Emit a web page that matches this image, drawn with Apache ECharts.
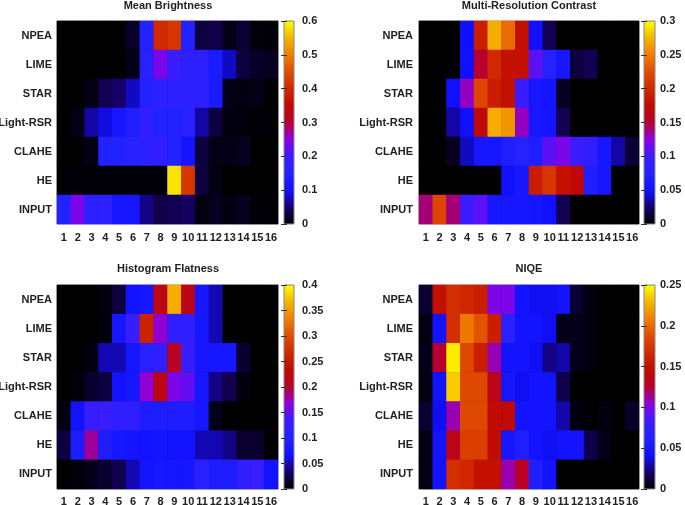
<!DOCTYPE html>
<html><head><meta charset="utf-8">
<script src="https://cdn.jsdelivr.net/npm/echarts@6/dist/echarts.min.js"></script>
<style>html,body{margin:0;padding:0;background:#fff}#c{width:685px;height:505px}</style>
</head><body><div id="c"></div><script>
// rows listed top to bottom
const methods = ['NPEA','LIME','STAR','Light-RSR','CLAHE','HE','INPUT'];
const columns = ['1','2','3','4','5','6','7','8','9','10','11','12','13','14','15','16'];

const meanBrightness = [
  [0,0,0,0,0,0.02,0.15,0.40,0.42,0.15,0.03,0.035,0.01,0.025,0.005,0.003],
  [0,0,0,0,0,0.01,0.16,0.24,0.20,0.17,0.17,0.13,0.08,0.03,0.02,0.015],
  [0,0,0.01,0.04,0.05,0.08,0.15,0.17,0.17,0.17,0.17,0.13,0.01,0.008,0.01,0],
  [0,0.01,0.07,0.09,0.12,0.14,0.18,0.15,0.15,0.16,0.07,0.03,0.008,0.005,0.003,0.002],
  [0,0,0.01,0.15,0.15,0.16,0.17,0.18,0.15,0.11,0.03,0.01,0.01,0.015,0,0],
  [0.003,0.003,0.003,0.003,0.003,0.003,0.003,0.003,0.58,0.42,0.03,0.008,0,0,0,0],
  [0.15,0.24,0.17,0.17,0.12,0.12,0.06,0.035,0.04,0.045,0.008,0.015,0.008,0.015,0.003,0.002]
];
const multiResContrast = [
  [0,0,0,0.05,0.19,0.27,0.24,0.18,0.05,0.02,0,0,0,0,0,0],
  [0,0,0,0.05,0.15,0.20,0.18,0.18,0.11,0.08,0.06,0.015,0.02,0,0,0],
  [0,0,0.05,0.13,0.22,0.19,0.18,0.10,0.06,0.055,0.008,0,0,0,0,0],
  [0,0,0.035,0.05,0.17,0.27,0.26,0.13,0.06,0.055,0.02,0,0,0,0,0],
  [0,0,0.008,0.04,0.06,0.06,0.07,0.08,0.07,0.11,0.12,0.10,0.09,0.06,0.035,0.012],
  [0,0,0,0,0,0,0.05,0.06,0.19,0.21,0.18,0.17,0.07,0.06,0,0],
  [0.14,0.22,0.14,0.10,0.11,0.06,0.06,0.06,0.055,0.05,0.02,0,0,0,0,0]
];
const histogramFlatness = [
  [0,0,0,0.005,0.02,0.07,0.08,0.22,0.36,0.22,0.08,0.05,0,0,0,0],
  [0,0,0,0.003,0.08,0.13,0.26,0.17,0.12,0.12,0.08,0.05,0,0,0,0],
  [0,0,0.005,0.05,0.05,0.08,0.11,0.12,0.21,0.13,0.08,0.08,0.08,0.015,0,0],
  [0,0.003,0.015,0.02,0.07,0.08,0.17,0.22,0.16,0.15,0.08,0.04,0.025,0.005,0,0],
  [0.005,0.07,0.13,0.13,0.12,0.12,0.09,0.09,0.09,0.09,0.08,0.008,0,0,0,0],
  [0.02,0.09,0.18,0.09,0.08,0.075,0.07,0.075,0.07,0.07,0.05,0.05,0.04,0.015,0.015,0],
  [0,0.003,0.008,0.015,0.025,0.05,0.075,0.08,0.08,0.08,0.11,0.09,0.09,0.12,0.13,0.07]
];
const niqe = [
  [0.01,0.15,0.17,0.165,0.16,0.10,0.10,0.045,0.04,0.04,0.045,0.01,0.003,0,0,0],
  [0.003,0.045,0.17,0.205,0.19,0.16,0.07,0.045,0.045,0.04,0.005,0.005,0.003,0,0,0],
  [0.005,0.125,0.245,0.185,0.16,0.11,0.045,0.045,0.04,0.025,0.03,0.005,0.003,0,0,0],
  [0.003,0.045,0.235,0.185,0.185,0.135,0.05,0.04,0.045,0.045,0.015,0,0,0,0,0],
  [0.01,0.04,0.11,0.185,0.185,0.145,0.145,0.045,0.045,0.045,0.03,0.003,0,0.003,0,0.008],
  [0.003,0.045,0.135,0.18,0.18,0.145,0.05,0.06,0.045,0.04,0.045,0.045,0.015,0.005,0,0],
  [0.003,0.045,0.17,0.165,0.15,0.15,0.11,0.13,0.06,0.045,0,0,0,0,0,0]
];

const titles = ['Mean Brightness','Multi-Resolution Contrast','Histogram Flatness','NIQE'];
const datasets = [meanBrightness, multiResContrast, histogramFlatness, niqe];
const scaleMax = [0.6, 0.3, 0.4, 0.25];
const scaleStep = [0.1, 0.05, 0.05, 0.05];

const palette = ['#000000','#160068','#1010ff','#2222ff','#3a1cff','#8c00e4','#b80030',
                 '#c00a00','#d02800','#e04c00','#f08000','#f5b800','#ffff00'];

const layouts = [
  {heat:{left:57,top:21,width:221,height:203}, bar:{left:284,top:21,width:10,height:203}, lm:8, xm:8, ym:5, tx:168, ty:0},
  {heat:{left:419,top:21,width:220,height:203}, bar:{left:644,top:21,width:11,height:203}, lm:5, xm:8, ym:6, tx:529, ty:0},
  {heat:{left:57,top:285,width:221,height:204}, bar:{left:284,top:285,width:10,height:204}, lm:8, xm:7, ym:5, tx:168, ty:263},
  {heat:{left:419,top:285,width:220,height:204}, bar:{left:644,top:285,width:11,height:204}, lm:5, xm:7, ym:6, tx:529, ty:263}
];

const font = 'Liberation Sans, Arial, sans-serif';
const yCats = methods.slice().reverse();

const option = {
  backgroundColor:'#fff', animation:false,
  title:[], grid:[], xAxis:[], yAxis:[], series:[], visualMap:[], graphic:[]
};

datasets.forEach((d, p) => {
  const L = layouts[p];
  option.title.push({text:titles[p], left:L.tx, top:L.ty, textAlign:'center', padding:0,
    textStyle:{fontFamily:font, fontSize:11, fontWeight:'bold', color:'#222'}});
  option.grid.push(Object.assign({show:true, borderColor:'#888', borderWidth:1, backgroundColor:'#000',
    containLabel:false, outerBoundsMode:'none'}, L.heat));
  option.xAxis.push({type:'category', gridIndex:p, data:columns, axisLine:{show:false}, axisTick:{show:false},
    axisLabel:{fontFamily:font, fontSize:11, fontWeight:'bold', color:'#222', margin:L.xm, interval:0}});
  option.yAxis.push({type:'category', gridIndex:p, data:yCats, axisLine:{show:false}, axisTick:{show:false},
    axisLabel:{fontFamily:font, fontSize:11, fontWeight:'bold', color:'#222', margin:L.ym}});
  const data = [];
  d.forEach((row, r) => row.forEach((v, c) => data.push([c, methods.length - 1 - r, v])));
  option.series.push({type:'heatmap', xAxisIndex:p, yAxisIndex:p, data:data, itemStyle:{borderWidth:0}, emphasis:{disabled:true}});
  option.visualMap.push({type:'continuous', show:false, seriesIndex:p, min:0, max:scaleMax[p], inRange:{color:palette}});
});

datasets.forEach((d, p) => {
  const L = layouts[p];
  option.grid.push(Object.assign({containLabel:false, outerBoundsMode:'none'}, L.bar));
  option.xAxis.push({type:'value', gridIndex:4+p, show:false, min:0, max:1});
  const stops = palette.map((c, i) => ({offset:i/(palette.length-1), color:c}));
  option.graphic.push({type:'rect', z:0, shape:{x:L.bar.left, y:L.bar.top, width:L.bar.width, height:L.bar.height},
    style:{fill:new echarts.graphic.LinearGradient(0,1,0,0,stops), stroke:'#888', lineWidth:1}});
});
datasets.forEach((d, p) => {
  const L = layouts[p];
  option.yAxis.push({type:'value', gridIndex:4+p, position:'right', min:0, max:scaleMax[p], interval:scaleStep[p],
    axisLine:{show:false}, splitLine:{show:false},
    axisTick:{show:true, inside:true, length:3, lineStyle:{color:'#333'}},
    axisLabel:{fontFamily:font, fontSize:11, fontWeight:'bold', color:'#222', margin:L.lm}});
});
datasets.forEach((d, p) => {
  option.yAxis.push({type:'value', gridIndex:4+p, position:'left', min:0, max:scaleMax[p], interval:scaleStep[p],
    axisLine:{show:false}, splitLine:{show:false}, axisLabel:{show:false},
    axisTick:{show:true, inside:true, length:3, lineStyle:{color:'#333'}}});
});

const chart = echarts.init(document.getElementById('c'), null, {renderer:'canvas'});
chart.setOption(option);
</script></body></html>
